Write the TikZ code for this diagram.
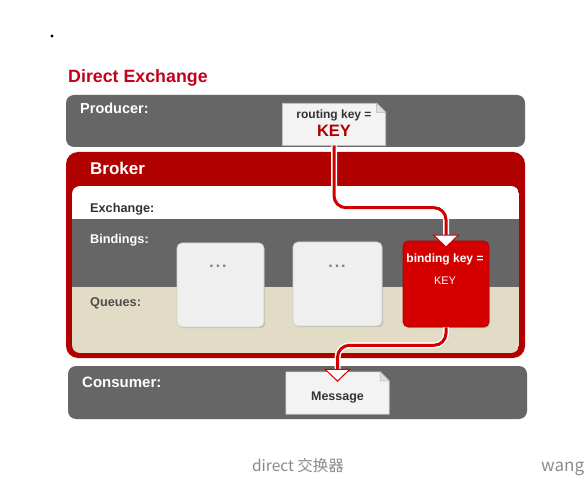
\documentclass[tikz,border=0pt]{standalone}
\usepackage{fontspec}
\setmainfont{Liberation Sans}
\newfontfamily\cjk{Noto Sans CJK SC}
\usetikzlibrary{arrows.meta,shadows,calc}
\definecolor{panelgray}{HTML}{666666}
\definecolor{brokerred}{HTML}{B00000}
\definecolor{titlered}{HTML}{C4001A}
\definecolor{beige}{HTML}{E2DCC6}
\definecolor{qfill}{HTML}{EFEFEF}
\definecolor{qred}{HTML}{D40000}
\definecolor{notefill}{HTML}{F3F3F3}
\definecolor{linered}{HTML}{D00000}
\definecolor{darktext}{HTML}{333333}
\definecolor{captiongray}{HTML}{8A8A8A}
\newcommand\drawnote[1]{%
  \fill[notefill] (#1.south west) -- (#1.north west) -- ([xshift=-9pt]#1.north east)
     -- ([yshift=-9pt]#1.north east) -- (#1.south east) -- cycle;
  \draw[black!25, line width=0.6pt] (#1.south west) -- (#1.north west) -- ([xshift=-9pt]#1.north east)
     -- ([yshift=-9pt]#1.north east) -- (#1.south east) -- cycle;
  \filldraw[fill=black!12, draw=black!30, line width=0.5pt] ([xshift=-9pt]#1.north east)
     -- ([xshift=-9pt,yshift=-9pt]#1.north east) -- ([yshift=-9pt]#1.north east) -- cycle;
}
\begin{document}
\begin{tikzpicture}[x=1pt,y=-1pt,
  txt/.style={anchor=base west, inner sep=0pt},
  ctxt/.style={anchor=base, inner sep=0pt},
  notebox/.style={rectangle, draw=none, inner sep=0pt},
  qbox/.style={rectangle, rounded corners=5pt, fill=qfill, draw=black!18, line width=0.6pt,
     inner sep=0pt, drop shadow={opacity=0.35, shadow xshift=1.2pt, shadow yshift=-1.2pt}},
  redbox/.style={rectangle, rounded corners=5pt, fill=qred, draw=brokerred, line width=0.6pt,
     inner sep=0pt, drop shadow={opacity=0.35, shadow xshift=1.2pt, shadow yshift=-1.2pt}},
  underlay/.style={draw=white, line width=6pt, rounded corners=12pt},
  flow/.style={draw=linered, line width=3pt, rounded corners=12pt,
     -{Triangle[width=27pt,length=13pt,fill=white,line width=1pt]}},
  dotstyle/.style={ctxt, text=black!50, font=\bfseries\fontsize{16pt}{18pt}\selectfont},
]
\useasboundingbox (0,0) rectangle (586,486);
\fill[white] (0,0) rectangle (586,486);

% dot
\fill[black] (52,36) circle (1.6pt);

% title
\node[txt, text=titlered, font=\bfseries\fontsize{17.8pt}{20pt}\selectfont] (title) at (68,83) {Direct Exchange};

% producer panel
\fill[panelgray, rounded corners=8pt] (66,95) rectangle (525,147);
\node[txt, text=white, font=\bfseries\fontsize{14.5pt}{17pt}\selectfont] (producer) at (80,114) {Producer:};

% broker
\fill[brokerred, rounded corners=12pt] (66,152) rectangle (525,358);
\begin{scope}
  \clip[rounded corners=8pt] (72,186) rectangle (519,353);
  \fill[white] (72,186) rectangle (519,219);
  \fill[panelgray] (72,219) rectangle (519,287);
  \fill[beige] (72,287) rectangle (519,353);
\end{scope}
\node[txt, text=white, font=\bfseries\fontsize{17pt}{20pt}\selectfont] (broker) at (90,175) {Broker};
\node[txt, text=darktext, font=\bfseries\fontsize{12.7pt}{15pt}\selectfont] (exch) at (90,213) {Exchange:};
\node[txt, text=white, font=\bfseries\fontsize{12.7pt}{15pt}\selectfont] (bind) at (90,244) {Bindings:};
\node[txt, text=black!70, font=\bfseries\fontsize{12.7pt}{15pt}\selectfont] (queues) at (90,306) {Queues:};

% consumer panel
\fill[panelgray, rounded corners=8pt] (68,366) rectangle (527,419);
\node[txt, text=white, font=\bfseries\fontsize{15pt}{18pt}\selectfont] (consumer) at (82,387) {Consumer:};

% routing key note
\node[notebox, minimum width=103pt, minimum height=42pt] (rk) at (334,124.5) {};
\drawnote{rk}
\node[ctxt, text=darktext, font=\bfseries\fontsize{12pt}{14pt}\selectfont] (rktext) at (334,119) {routing key =};
\node[ctxt, text=brokerred, font=\bfseries\fontsize{16.5pt}{19pt}\selectfont] (rkkey) at (334,137) {KEY};

% queue boxes
\node[qbox, minimum width=87pt, minimum height=84pt] (q1) at (220.5,285) {};
\node[qbox, minimum width=89pt, minimum height=84pt] (q2) at (337.5,284) {};
\node[redbox, minimum width=86pt, minimum height=86pt] (q3) at (446,284) {};
\node[dotstyle] (d1) at (218,268) {.\hspace{2pt}.\hspace{2pt}.};
\node[dotstyle] (d2) at (337,268) {.\hspace{2pt}.\hspace{2pt}.};
\node[ctxt, text=white, font=\bfseries\fontsize{12pt}{14pt}\selectfont] (bk1) at (445,263) {binding key =};
\node[ctxt, text=white, font=\fontsize{11pt}{13pt}\selectfont] (bk2) at (445,284) {KEY};

% message note
\node[notebox, minimum width=103pt, minimum height=42pt] (msg) at (337.5,393) {};
\drawnote{msg}
\node[ctxt, text=darktext, font=\bfseries\fontsize{12.5pt}{15pt}\selectfont] (msgtext) at (337.5,400) {Message};

% connectors
\draw[underlay] (rk.south) -- ++(0,62) -| ($(q3.north)+(0,-5)$);
\draw[flow] (rk.south) -- ++(0,62) -| ($(q3.north)+(0,7)$);
\draw[underlay] (q3.south) -- ++(0,18) -| ($(msg.north)+(0,-2)$);
\draw[flow] (q3.south) -- ++(0,18) -| ($(msg.north)+(0,10)$);

% caption
\node[inner sep=0pt, text=captiongray, font=\cjk\fontsize{15.5pt}{18pt}\selectfont] (caption) at (298,466) {direct 交换器};
\node[anchor=west, inner sep=0pt, text=black!45, font=\cjk\fontsize{17pt}{20pt}\selectfont] (wang) at (541,469) {wang};
\end{tikzpicture}
\end{document}
